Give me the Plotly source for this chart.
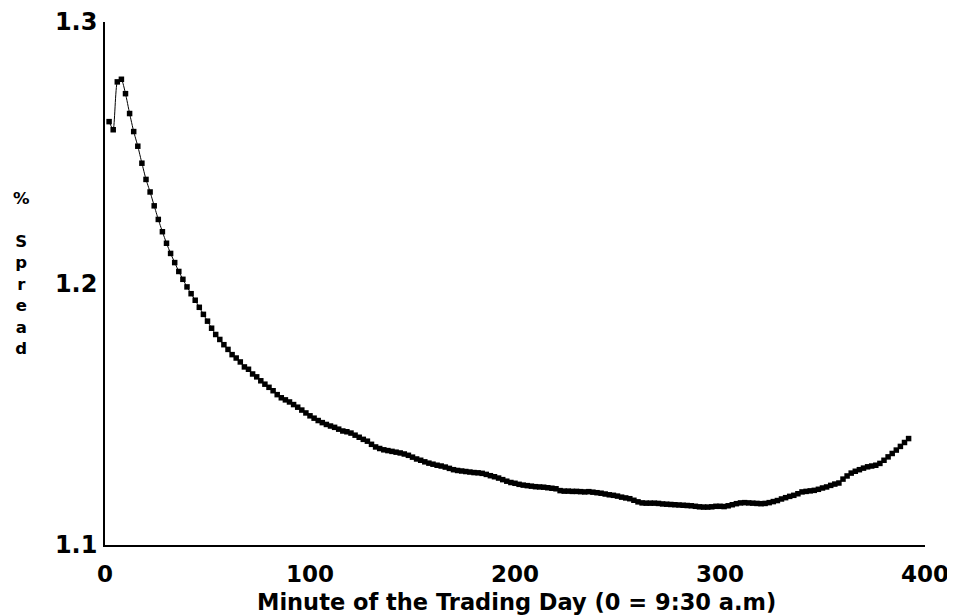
import plotly.graph_objects as go

# Minute of the trading day (every 2 minutes)
minutes = list(range(2, 394, 2))

# % spread
spread = [
    1.2619, 1.2588, 1.2771, 1.2781, 1.2726, 1.2650, 1.2581, 1.2525, 1.2460, 1.2398,
    1.2350, 1.2297, 1.2245, 1.2198, 1.2154, 1.2115, 1.2080, 1.2046, 1.2016, 1.1987,
    1.1961, 1.1936, 1.1909, 1.1882, 1.1856, 1.1829, 1.1805, 1.1786, 1.1766, 1.1748,
    1.1728, 1.1715, 1.1700, 1.1681, 1.1672, 1.1654, 1.1643, 1.1628, 1.1615, 1.1603,
    1.1590, 1.1575, 1.1563, 1.1555, 1.1547, 1.1537, 1.1527, 1.1516, 1.1505, 1.1494,
    1.1485, 1.1476, 1.1468, 1.1461, 1.1455, 1.1450, 1.1443, 1.1436, 1.1433, 1.1428,
    1.1420, 1.1412, 1.1404, 1.1397, 1.1385, 1.1375, 1.1369, 1.1364, 1.1361, 1.1358,
    1.1355, 1.1352, 1.1348, 1.1343, 1.1336, 1.1329, 1.1324, 1.1318, 1.1313, 1.1309,
    1.1305, 1.1302, 1.1298, 1.1293, 1.1288, 1.1285, 1.1283, 1.1281, 1.1279, 1.1277,
    1.1276, 1.1274, 1.1270, 1.1265, 1.1261, 1.1256, 1.1250, 1.1244, 1.1239, 1.1236,
    1.1232, 1.1229, 1.1227, 1.1225, 1.1223, 1.1222, 1.1221, 1.1219, 1.1217, 1.1215,
    1.1208, 1.1206, 1.1206, 1.1205, 1.1205, 1.1204, 1.1203, 1.1204, 1.1202, 1.1200,
    1.1198, 1.1195, 1.1192, 1.1190, 1.1187, 1.1183, 1.1180, 1.1177, 1.1171, 1.1165,
    1.1161, 1.1160, 1.1160, 1.1160, 1.1159, 1.1157, 1.1156, 1.1155, 1.1154, 1.1153,
    1.1152, 1.1151, 1.1150, 1.1148, 1.1146, 1.1145, 1.1145, 1.1146, 1.1148, 1.1148,
    1.1147, 1.1150, 1.1154, 1.1158, 1.1161, 1.1162, 1.1161, 1.1160, 1.1159, 1.1158,
    1.1159, 1.1162, 1.1166, 1.1170, 1.1176, 1.1181, 1.1186, 1.1190, 1.1196, 1.1203,
    1.1205, 1.1207, 1.1209, 1.1213, 1.1218, 1.1222, 1.1228, 1.1233, 1.1237, 1.1252,
    1.1264, 1.1275, 1.1282, 1.1288, 1.1294, 1.1299, 1.1302, 1.1305, 1.1312, 1.1324,
    1.1337, 1.1350, 1.1363, 1.1377, 1.1392, 1.1407,
]

x_ticks = [0, 100, 200, 300, 400]
y_ticks = [1.1, 1.2, 1.3]
y_tick_text = ["1.1", "1.2", "1.3"]

x_title = "Minute of the Trading Day (0 = 9:30 a.m)"
y_title_letters = ["%", "", "S", "p", "r", "e", "a", "d"]

fig = go.Figure()
fig.add_trace(go.Scatter(
    x=minutes, y=spread,
    mode="lines+markers",
    line=dict(color="black", width=1, shape="spline", smoothing=0.5),
    marker=dict(symbol="square", size=5.5, color="black"),
    showlegend=False,
))

FONT = "DejaVu Sans, Liberation Sans, Arial, sans-serif"

# the page body adds an 8 px offset, so the figure is 8 px smaller and margins shifted
fig.update_layout(
    width=947, height=608,
    margin=dict(l=97, r=30, t=14, b=71),
    paper_bgcolor="white", plot_bgcolor="white",
    font=dict(family=FONT, color="black"),
    xaxis=dict(
        range=[0, 400], tickvals=x_ticks, ticktext=[str(v) for v in x_ticks],
        showgrid=False, zeroline=False, showline=True, linecolor="black", linewidth=1.5,
        ticks="", automargin=False, ticklabelstandoff=8, ticklabeloverflow="allow",
        tickfont=dict(size=23, family=FONT, weight="bold"),
    ),
    yaxis=dict(
        range=[1.1, 1.3], tickvals=y_ticks, ticktext=y_tick_text,
        showgrid=False, zeroline=False, showline=True, linecolor="black", linewidth=1.5,
        ticks="", automargin=False, ticklabelstandoff=1, ticklabeloverflow="allow",
        tickfont=dict(size=24, family=FONT, weight="bold"),
    ),
)

# x-axis title
fig.add_annotation(
    text="<b>" + x_title + "</b>",
    xref="paper", yref="paper", x=0.502, y=-0.1084,
    xanchor="center", yanchor="middle", showarrow=False,
    font=dict(size=22.5, family=FONT, color="black"),
)

# vertical stacked y-axis title
fig.add_annotation(
    text="<b>" + "<br>".join(y_title_letters) + "</b>",
    xref="paper", yref="paper", x=-0.1024, y=0.52,
    xanchor="center", yanchor="middle", showarrow=False, align="center",
    font=dict(size=16.5, family=FONT, color="black"),
)

fig.write_html("out.html")
